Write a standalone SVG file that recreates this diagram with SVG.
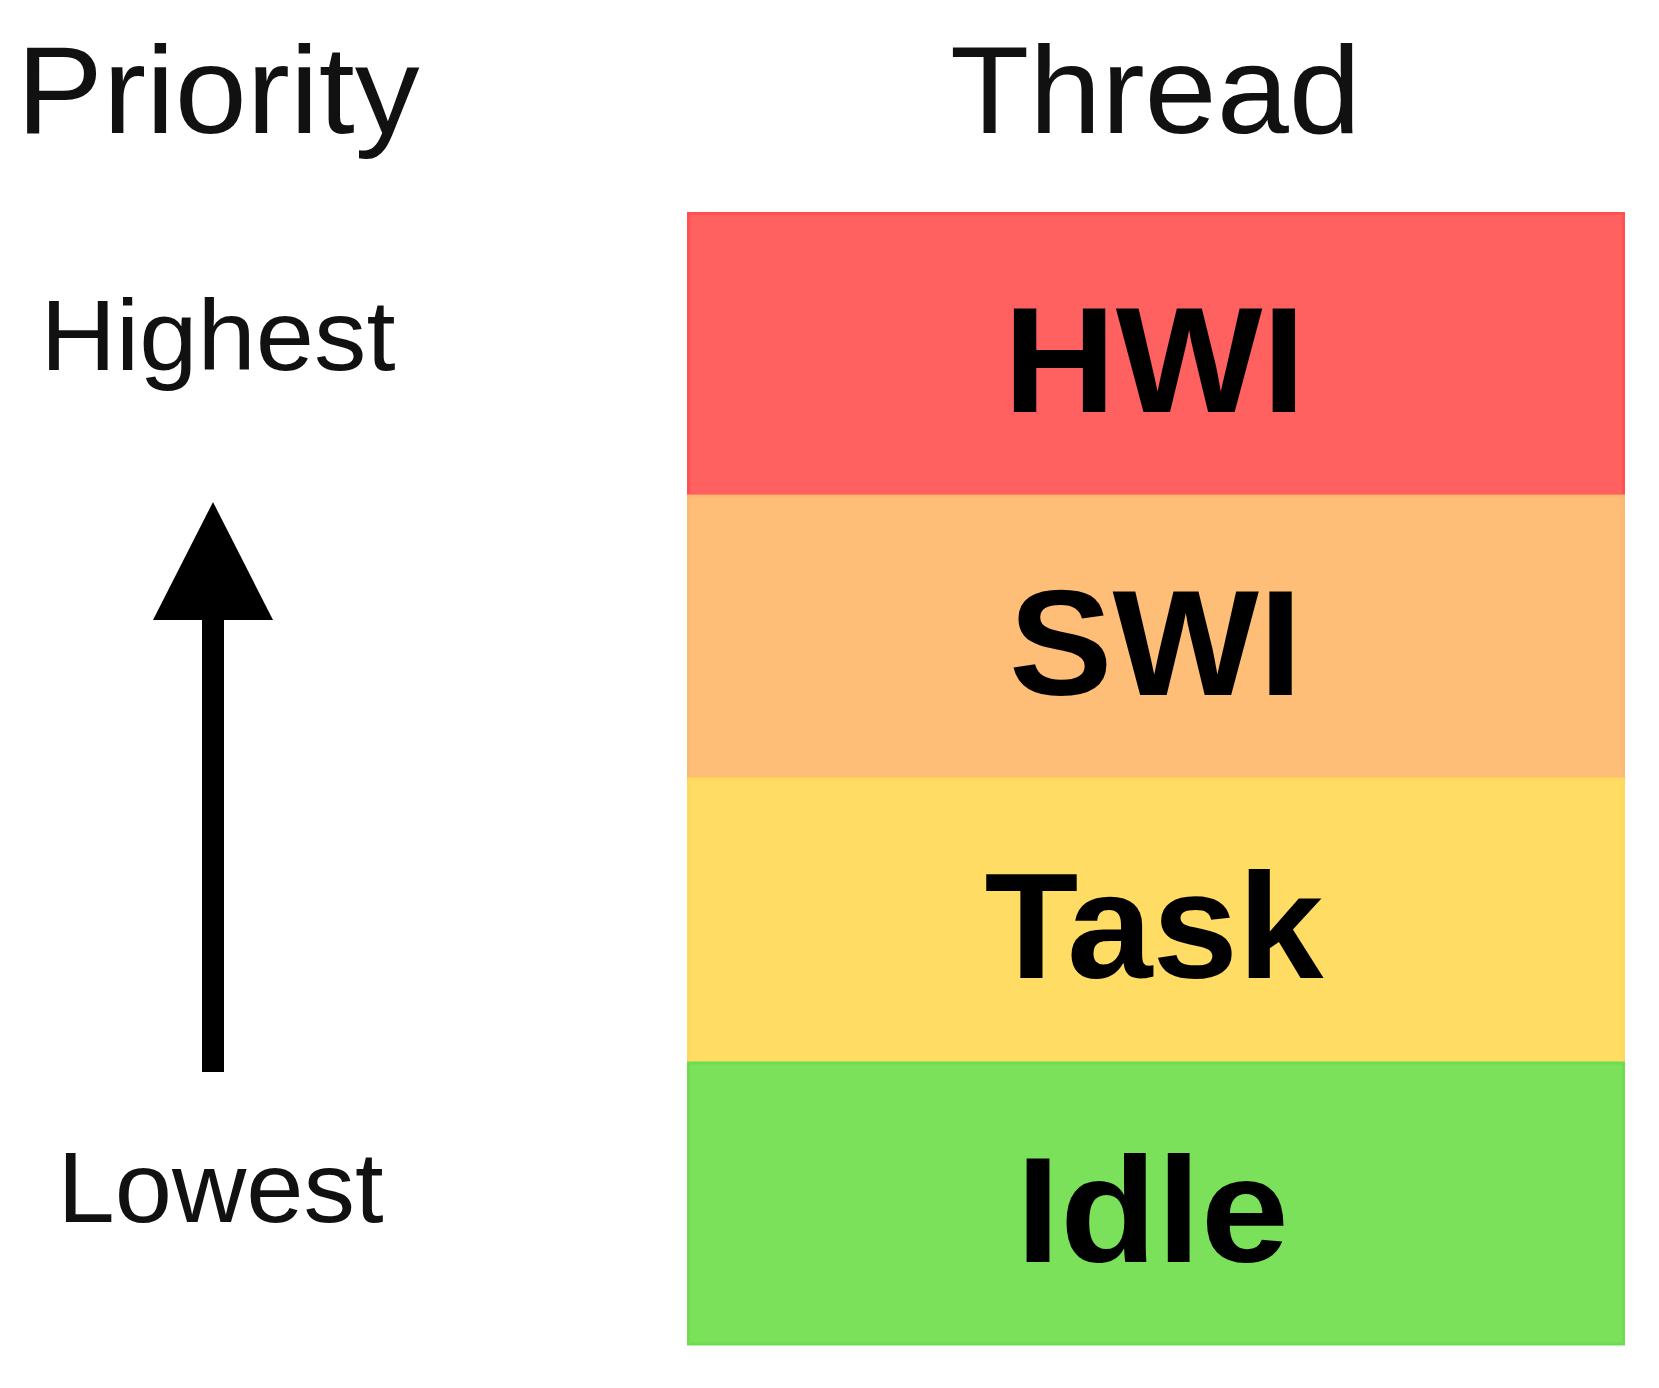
<svg xmlns="http://www.w3.org/2000/svg" width="1659" height="1388" viewBox="0 0 1659 1388">
  <style>
    .hdr { font-family: "Liberation Sans", Arial, sans-serif; font-size: 124px; fill: #111; text-anchor: middle; }
    .lvl { font-family: "Liberation Sans", Arial, sans-serif; font-size: 100px; fill: #111; text-anchor: middle; }
    .thr { font-family: "Liberation Sans", Arial, sans-serif; font-size: 150px; font-weight: bold; fill: #000; text-anchor: middle; }
    .band { stroke-width: 3; }
  </style>
  <rect x="0" y="0" width="1659" height="1388" fill="#ffffff"/>
  <g id="labels">
    <text class="hdr" x="218" y="133" textLength="403" lengthAdjust="spacingAndGlyphs">Priority</text>
    <text class="hdr" x="1155.5" y="133" textLength="411" lengthAdjust="spacingAndGlyphs">Thread</text>
    <text class="lvl" x="218" y="370" textLength="355" lengthAdjust="spacingAndGlyphs">Highest</text>
    <text class="lvl" x="220.5" y="1222" textLength="326" lengthAdjust="spacingAndGlyphs">Lowest</text>
  </g>
  <g id="connectors">
    <rect x="202" y="615" width="22" height="457" fill="#000"/>
    <polygon points="213,502 273,620 153,620" fill="#000"/>
  </g>
  <g id="node-hwi">
    <rect class="band" x="688.5" y="213.5" width="935" height="282" fill="#FF6161" stroke="#FF4F4F"/>
    <text class="thr" x="1154.5" y="412" textLength="302" lengthAdjust="spacingAndGlyphs">HWI</text>
  </g>
  <g id="node-swi">
    <rect class="band" x="688.5" y="496" width="935" height="283" fill="#FFBE78" stroke="#FFB870"/>
    <text class="thr" x="1155.5" y="695" textLength="293" lengthAdjust="spacingAndGlyphs">SWI</text>
  </g>
  <g id="node-task">
    <rect class="band" x="688.5" y="779" width="935" height="284" fill="#FFDC64" stroke="#FFD85C"/>
    <text class="thr" x="1154" y="978" textLength="339" lengthAdjust="spacingAndGlyphs">Task</text>
  </g>
  <g id="node-idle">
    <rect class="band" x="688.5" y="1063" width="935" height="281" fill="#7BE15A" stroke="#6FDC4E"/>
    <text class="thr" x="1152.5" y="1262" textLength="273" lengthAdjust="spacingAndGlyphs">Idle</text>
  </g>
</svg>
